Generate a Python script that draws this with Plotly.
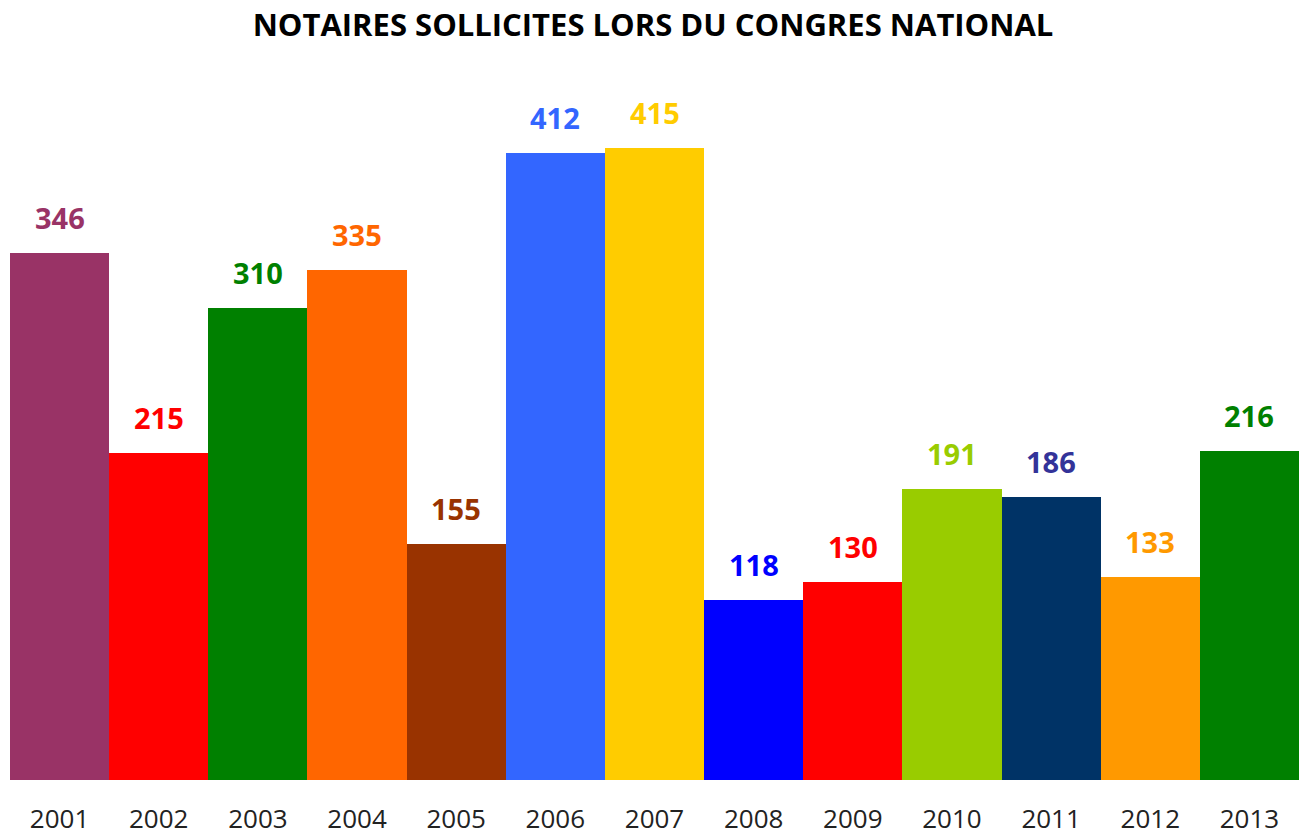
import plotly.graph_objects as go

years = ["2001", "2002", "2003", "2004", "2005", "2006", "2007",
         "2008", "2009", "2010", "2011", "2012", "2013"]
values = [346, 215, 310, 335, 155, 412, 415, 118, 130, 191, 186, 133, 216]
bar_colors = ["#993366", "#FF0000", "#008000", "#FF6600", "#993300", "#3366FF", "#FFCC00",
              "#0000FF", "#FF0000", "#99CC00", "#003366", "#FF9900", "#008000"]
label_colors = ["#993366", "#FF0000", "#008000", "#FF6600", "#993300", "#3366FF", "#FFCC00",
                "#0000FF", "#FF0000", "#99CC00", "#333399", "#FF9900", "#008000"]

positions = list(range(len(years)))

fig = go.Figure(go.Bar(x=positions, y=values, width=1,
                       marker=dict(color=bar_colors, line=dict(width=0)),
                       customdata=years, hovertemplate="%{customdata}: %{y}<extra></extra>"))

for p, v, c in zip(positions, values, label_colors):
    fig.add_annotation(x=p, y=v, text="<b>%d</b>" % v, showarrow=False, yanchor="bottom",
                       yshift=14, font=dict(family="Open Sans", size=29, color=c))

W, H = 1309, 834
fig.update_layout(
    width=W, height=H,
    margin=dict(l=10, r=10, t=100, b=54),
    paper_bgcolor="white", plot_bgcolor="white",
    bargap=0,
    showlegend=False,
    title=dict(text="<b>NOTAIRES SOLLICITES LORS DU CONGRES NATIONAL</b>",
               x=653 / W, xanchor="center", xref="container",
               y=1 - 25 / H, yanchor="middle", yref="container",
               font=dict(family="Open Sans", size=31, color="#000000")),
    xaxis=dict(range=[-0.5, len(years) - 0.5], tickmode="array", tickvals=positions, ticktext=years,
               showgrid=False, showline=False, zeroline=False,
               ticks="outside", ticklen=16, tickcolor="rgba(0,0,0,0)", automargin=False,
               tickfont=dict(family="Open Sans", size=26, color="#222222")),
    yaxis=dict(visible=False, range=[0, 680 / (632 / 415)], automargin=False),
)

# remove the default 8px page margin so the figure fills the window exactly
fig.write_html("out.html", config={"displayModeBar": False},
               post_script="document.body.style.margin='0';")
